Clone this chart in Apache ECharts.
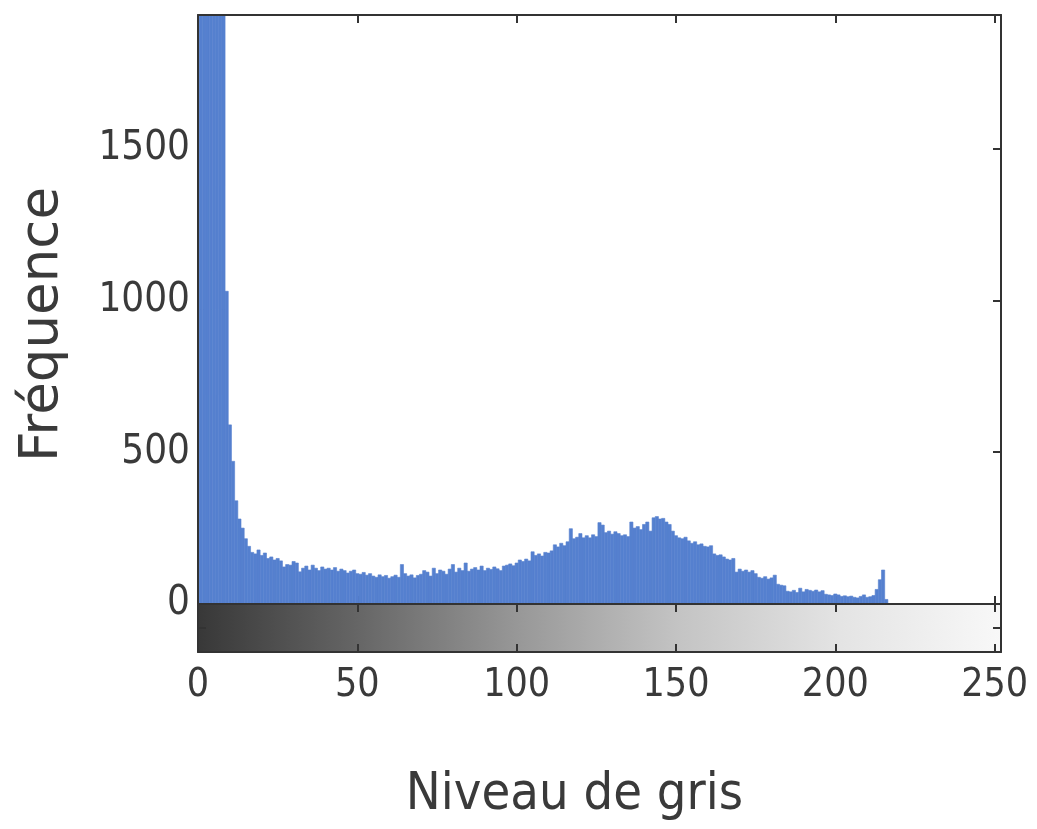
<!DOCTYPE html>
<html>
<head>
<meta charset="utf-8">
<title>Histogramme des niveaux de gris</title>
<script src="https://cdn.jsdelivr.net/npm/echarts@6/dist/echarts.min.js"></script>
<style>
  html, body { margin: 0; padding: 0; background: #fff; }
  #chart { width: 1037px; height: 829px; }
</style>
</head>
<body>
<div id="chart"></div>
<script>
// pixel counts per grey level, bins 0..216 (bins 0-8 go past the top of the axes)
const counts = [
  5200, 4300, 3600, 3000, 2700, 2400, 2200, 2100, 2000,
  1030, 590, 470, 340, 280, 250, 215, 190,
  170, 165, 178, 160, 168, 150, 155,
  145, 150, 142, 122, 130, 128, 140, 135,
  106, 118, 125, 112, 128, 118, 110, 122, 115,
  118, 112, 120, 108, 115, 110, 102, 108, 112, 100,
  98, 104, 95, 100, 92, 88, 96, 90, 94, 85,
  90, 95, 88, 130, 100, 92, 96, 86, 94, 98,
  110, 105, 92, 118, 100, 112, 108, 98, 115, 130,
  105, 118, 110, 135, 108, 115, 120, 112, 125, 110,
  118, 114, 122, 116, 110, 125, 128, 132, 126, 135,
  145, 140, 148, 142,
  172,
  160, 165, 158, 170, 168, 175,
  195, 188, 200, 192, 205,
  248,
  215, 220, 232, 218,
  225, 218, 228, 222,
  268, 260,
  235, 240, 230, 238, 232,
  225, 228, 222,
  270,
  250, 255, 245, 262,
  270, 240,
  284, 288, 280, 282, 270, 262,
  240, 225,
  218, 215, 220, 208,
  200, 205, 195, 198, 190,
  188, 192,
  165, 160, 162, 155,
  148, 145, 150,
  105,
  115, 108, 112, 105, 110, 100,
  88, 85, 90, 82, 86,
  95,
  65, 62, 60,
  42, 40, 45, 38, 52, 40, 48,
  45, 42, 46, 40, 44,
  32, 30, 28, 33, 30,
  25, 27, 24, 26,
  22, 20, 25, 30, 22, 24, 28,
  48, 80, 112, 15
];
const grayRange = [[0, 255]];
const xMax = 252;
const yMax = 1940;
const xStep = 50;
const yStep = 500;

const barColor = '#5580cf';
const axisColor = '#333333';
const textColor = '#3a3a3a';
const condensed = "'DejaVu Sans Condensed', 'DejaVu Sans', sans-serif";

const chart = echarts.init(document.getElementById('chart'));

function clipTo(rect, cs) {
  return echarts.graphic.clipRectByRect(rect, { x: cs.x, y: cs.y, width: cs.width, height: cs.height });
}

function renderBin(params, api) {
  const i = api.value(0);
  const p0 = api.coord([i - 0.5, 0]);
  const p1 = api.coord([i + 0.5, api.value(1)]);
  const shape = clipTo({ x: p0[0], y: p1[1], width: p1[0] - p0[0], height: p0[1] - p1[1] }, params.coordSys);
  if (!shape) return;
  return { type: 'rect', shape: shape, style: { fill: barColor, stroke: barColor, lineWidth: 0.6 } };
}

function renderGray(params, api) {
  const p0 = api.coord([api.value(0), 0]);
  const p1 = api.coord([api.value(1), 2]);
  const shape = clipTo({ x: p0[0], y: p1[1], width: p1[0] - p0[0], height: p0[1] - p1[1] }, params.coordSys);
  return {
    type: 'rect',
    shape: shape,
    style: {
      fill: new echarts.graphic.LinearGradient(0, 0, 1, 0, [
        { offset: 0, color: '#383838' },
        { offset: 0.2, color: '#666666' },
        { offset: 0.4, color: '#989898' },
        { offset: 0.6, color: '#c4c4c4' },
        { offset: 0.8, color: '#e4e4e4' },
        { offset: 1, color: '#f8f8f8' }
      ])
    }
  };
}

const lineStyle = { color: axisColor, width: 2 };
const tickIn = { show: true, inside: true, length: 8, lineStyle: { color: axisColor, width: 2 } };

function xAx(grid, pos, extra) {
  return Object.assign({
    gridIndex: grid, type: 'value', position: pos, min: 0, max: xMax, interval: xStep, z: 3,
    axisLine: { show: true, onZero: false, lineStyle: lineStyle },
    axisTick: tickIn,
    axisLabel: { show: false },
    splitLine: { show: false }
  }, extra || {});
}

function yAx(grid, pos, max, step, extra) {
  return Object.assign({
    gridIndex: grid, type: 'value', position: pos, min: 0, max: max, interval: step, z: 3,
    axisLine: { show: true, onZero: false, lineStyle: lineStyle },
    axisTick: tickIn,
    axisLabel: { show: false },
    splitLine: { show: false }
  }, extra || {});
}

const option = {
  animation: false,
  backgroundColor: '#ffffff',
  grid: [
    { left: 198, top: 15, width: 803, height: 589 },
    { left: 198, top: 604, width: 803, height: 48 }
  ],
  xAxis: [
    xAx(0, 'bottom', { axisTick: { show: false } }),
    // ticks only, kept under the bars
    xAx(0, 'bottom', { z: 0, axisLine: { show: false } }),
    xAx(0, 'top'),
    xAx(1, 'bottom', {
      axisLabel: {
        show: true, margin: 14, showMaxLabel: false,
        formatter: v => String(v),
        fontFamily: condensed, fontSize: 39, color: textColor
      },
      name: 'Niveau de gris',
      nameLocation: 'middle',
      nameGap: 117,
      nameTextStyle: { fontFamily: condensed, fontSize: 52, color: textColor, padding: [0, 50, 0, 0] }
    }),
    xAx(1, 'top')
  ],
  yAxis: [
    yAx(0, 'left', yMax, yStep, {
      axisTick: { show: false },
      axisLabel: {
        show: true, margin: 8, showMaxLabel: false,
        formatter: v => String(v),
        fontFamily: condensed, fontSize: 40, color: textColor
      },
      name: 'Fréquence',
      nameLocation: 'middle',
      nameGap: 128,
      nameTextStyle: { fontFamily: "'DejaVu Sans', sans-serif", fontSize: 53, color: textColor, padding: [0, 30, 0, 0] }
    }),
    yAx(0, 'right', yMax, yStep),
    yAx(1, 'left', 2, 1),
    yAx(1, 'right', 2, 1)
  ],
  series: [
    {
      type: 'custom',
      xAxisIndex: 0,
      yAxisIndex: 0,
      clip: true,
      renderItem: renderBin,
      data: counts.map((v, i) => [i, v])
    },
    {
      type: 'custom',
      xAxisIndex: 3,
      yAxisIndex: 2,
      clip: true,
      renderItem: renderGray,
      data: grayRange
    }
  ]
};

chart.setOption(option);
</script>
</body>
</html>
